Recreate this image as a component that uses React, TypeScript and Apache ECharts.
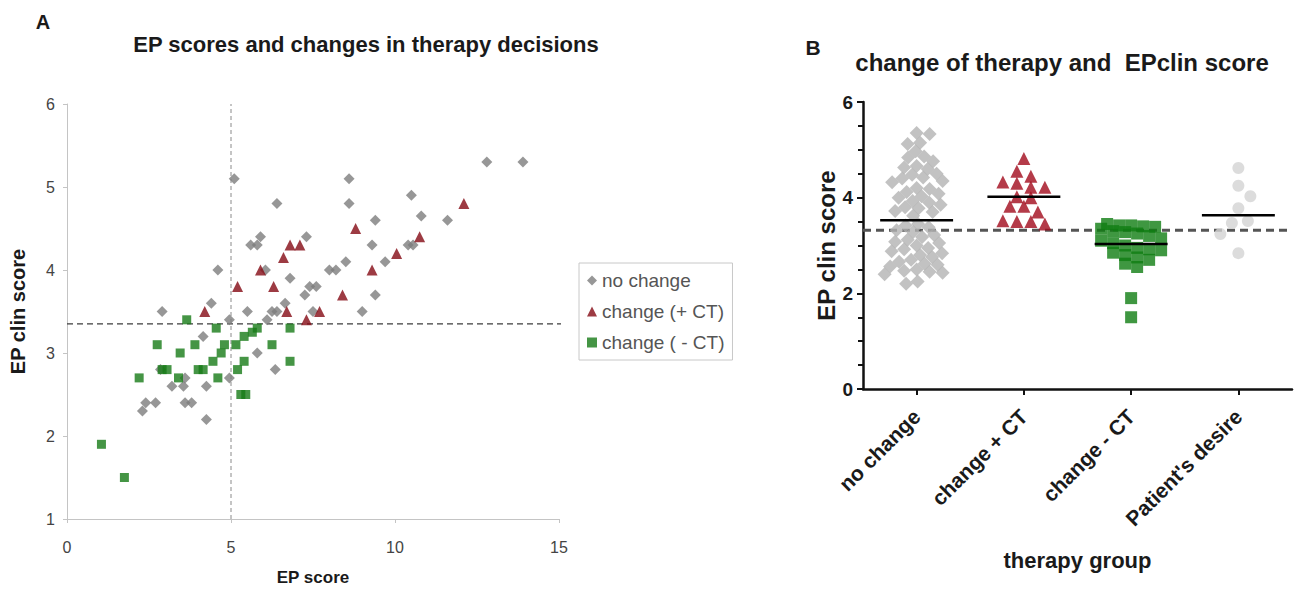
import React, { useEffect, useRef } from "react";
import * as echarts from "echarts";

// ---------- Panel A data: [EP score, EPclin score] ----------
const noChangeA: [number, number][] = [
  [12.8, 5.3], [13.9, 5.3], [5.1, 5.1], [8.6, 5.1], [6.4, 4.8], [8.6, 4.8], [10.5, 4.9],
  [10.8, 4.65], [9.4, 4.6], [11.6, 4.6], [9.3, 4.3], [7.3, 4.4], [8.5, 4.1], [8.0, 4.0],
  [8.2, 4.0], [9.7, 4.1], [10.4, 4.3], [10.55, 4.3], [7.25, 3.7], [7.4, 3.8], [7.6, 3.8],
  [9.4, 3.7], [9.0, 3.5], [7.5, 3.5], [5.6, 4.3], [5.8, 4.3], [5.9, 4.4], [4.6, 4.0],
  [6.05, 4.0], [6.8, 3.9], [4.4, 3.6], [5.5, 3.5], [6.25, 3.5], [6.4, 3.5], [6.65, 3.6],
  [4.95, 3.4], [6.1, 3.4], [2.9, 3.5], [4.15, 3.2], [5.8, 3.0], [6.35, 2.8], [4.95, 2.7],
  [2.85, 2.8], [3.2, 2.6], [3.55, 2.6], [3.6, 2.7], [4.25, 2.6], [2.4, 2.4], [2.7, 2.4],
  [3.6, 2.4], [3.8, 2.4], [2.3, 2.3], [4.25, 2.2],
];
const plusCTA: [number, number][] = [
  [12.1, 4.8], [8.8, 4.5], [6.8, 4.3], [7.1, 4.3], [9.3, 4.0], [10.05, 4.2], [10.75, 4.4],
  [8.4, 3.7], [7.7, 3.5], [7.3, 3.4], [6.6, 4.15], [5.9, 4.0], [5.2, 3.8], [6.3, 3.8],
  [4.2, 3.5], [6.7, 3.5],
];
const minusCTA: [number, number][] = [
  [3.65, 3.4], [4.55, 3.3], [5.8, 3.3], [6.8, 3.3], [2.75, 3.1], [3.9, 3.1], [3.45, 3.0],
  [4.7, 3.0], [4.8, 3.1], [5.15, 3.1], [5.4, 3.2], [5.65, 3.25], [6.25, 3.1], [6.8, 2.9],
  [4.45, 2.9], [5.4, 2.9], [5.2, 2.8], [4.0, 2.8], [4.15, 2.8], [2.9, 2.8], [3.05, 2.8],
  [3.4, 2.7], [4.6, 2.7], [2.2, 2.7], [5.3, 2.5], [5.45, 2.5], [1.05, 1.9], [1.75, 1.5],
];
const legendNamesA = ["no change", "change (+ CT)", "change ( - CT)"];
const epCutoff = 5;
const epClinCutoffA = 3.35;

// ---------- Panel B data: EPclin score per therapy group ----------
const groupNames = ["no change", "change + CT", "change - CT", "Patient's desire"];
const noChangeB = [
  5.35, 5.33, 5.15, 5.12, 4.97, 4.86, 4.84, 4.76, 4.66, 4.63, 4.6, 4.5, 4.48, 4.42, 4.4,
  4.35, 4.32, 4.2, 4.18, 4.12, 4.08, 4.03, 4.0, 3.93, 3.9, 3.85, 3.8, 3.78, 3.72, 3.7,
  3.62, 3.45, 3.42, 3.38, 3.32, 3.28, 3.22, 3.18, 3.12, 3.08, 3.05, 3.0, 2.95, 2.92, 2.88,
  2.84, 2.8, 2.76, 2.7, 2.66, 2.62, 2.6, 2.56, 2.5, 2.47, 2.45, 2.43, 2.4, 2.25, 2.2,
];
const plusCTB = [4.82, 4.55, 4.45, 4.33, 4.3, 4.22, 4.22, 4.02, 4.0, 3.82, 3.82, 3.7, 3.52, 3.5, 3.45, 3.5];
const minusCTB = [
  3.45, 3.42, 3.42, 3.4, 3.39, 3.35, 3.3, 3.28, 3.25, 3.2, 3.15, 3.1, 3.05, 3.0, 2.95, 2.92,
  2.9, 2.85, 2.8, 2.75, 2.7, 2.62, 2.55, 1.9, 1.5,
];
const desireB = [4.62, 4.25, 4.03, 3.78, 3.47, 3.51, 3.24, 2.84];
const groupMeans = [3.53, 4.02, 3.03, 3.63];
const epClinCutoffB = 3.32;

// ---------- layout constants ----------
const FONT = '"Liberation Sans", Arial, Helvetica, sans-serif';
const gridA = { left: 67, top: 104, width: 492, height: 415 };
const gridB = { left: 863, top: 102, width: 429, height: 287 };
const yMaxB = 6;
const pxPerX = gridB.width / groupNames.length;
const pxPerY = gridB.height / yMaxB;

// beeswarm offsets computed from values (pixel collision, then back to axis units)
function swarm(values: number[], groupIdx: number, w: number, h: number, metric: "l1" | "euclid") {
  const placed: { x: number; y: number }[] = [];
  const order = values.map((_, i) => i).sort((a, b) => values[b] - values[a]);
  const out: [number, number][] = [];
  for (const i of order) {
    const y = values[i] * pxPerY;
    let best = 0;
    for (let k = 0; k < 2000; k++) {
      const off = k === 0 ? 0 : (k % 2 === 1 ? 1 : -1) * Math.ceil(k / 2) * 0.5;
      const hit = placed.some((p) => {
        const dx = Math.abs(p.x - off);
        const dy = Math.abs(p.y - y);
        return metric === "l1" ? dx / w + dy / h < 0.98 : dx * dx + dy * dy < w * w * 0.98;
      });
      if (!hit) {
        best = off;
        break;
      }
    }
    placed.push({ x: best, y });
    out.push([groupIdx + 0.5 + best / pxPerX, values[i]]);
  }
  return out;
}

// row-binned dot plot (values in the same bin sit side by side)
function rowsLayout(values: number[], groupIdx: number, w: number, h: number) {
  const binSize = h / pxPerY;
  const bins = new Map<number, number[]>();
  values.forEach((v) => {
    const b = Math.round(v / binSize);
    if (!bins.has(b)) bins.set(b, []);
    bins.get(b)!.push(v);
  });
  const out: [number, number][] = [];
  bins.forEach((vals) => {
    vals.sort((a, b) => b - a);
    const n = vals.length;
    vals.forEach((v, j) => {
      out.push([groupIdx + 0.5 + ((j - (n - 1) / 2) * w) / pxPerX, v]);
    });
  });
  return out;
}

export default function App() {
  const ref = useRef<HTMLDivElement>(null);

  useEffect(() => {
    if (!ref.current) return;
    const chart = echarts.init(ref.current, undefined, { renderer: "svg" });
    const halfMeanWidth = 0.34;
    const txt = (x: number, y: number, text: string, size: number) => ({
      type: "text",
      x,
      y,
      style: {
        text,
        fontFamily: FONT,
        fontSize: size,
        fontWeight: "bold",
        fill: "#1a1a1a",
        align: "center",
        verticalAlign: "middle",
        textAlign: "center",
        textVerticalAlign: "middle",
      },
    });

    const option: any = {
      animation: false,
      textStyle: { fontFamily: FONT },
      graphic: [
        txt(43, 22, "A", 20),
        txt(366, 44, "EP scores and changes in therapy decisions", 22),
        txt(813, 47, "B", 21),
        txt(1062, 62, "change of therapy and  EPclin score", 24),
      ],
      legend: {
        data: legendNamesA,
        orient: "vertical",
        left: 579,
        top: 263,
        padding: [8, 8, 8, 8],
        itemGap: 12,
        itemWidth: 10,
        itemHeight: 10,
        borderColor: "#c8c8c8",
        borderWidth: 1,
        selectedMode: false,
        textStyle: { fontSize: 19, color: "#555", fontFamily: FONT },
      },
      grid: [
        { ...gridA, containLabel: false },
        { ...gridB, containLabel: false },
      ],
      xAxis: [
        {
          type: "value", gridIndex: 0, min: 0, max: 15, interval: 5,
          name: "EP score", nameLocation: "middle", nameGap: 50,
          nameTextStyle: { fontSize: 17, fontWeight: "bold", color: "#1a1a1a", fontFamily: FONT },
          axisLine: { show: true, lineStyle: { color: "#c4c4c4", width: 1 } },
          axisTick: { show: true, length: 4, lineStyle: { color: "#c4c4c4" } },
          axisLabel: { fontSize: 16, color: "#444", margin: 20 },
          splitLine: { show: false },
        },
        {
          type: "category", gridIndex: 1, data: groupNames, boundaryGap: true,
          name: "therapy group", nameLocation: "middle", nameGap: 160,
          nameTextStyle: { fontSize: 22, fontWeight: "bold", color: "#1a1a1a", fontFamily: FONT },
          axisLine: { show: true, lineStyle: { color: "#111", width: 2.5 } },
          axisTick: { show: true, alignWithLabel: true, length: 6, lineStyle: { color: "#111", width: 2 } },
          axisLabel: { rotate: 45, interval: 0, fontSize: 21, fontWeight: "bold", color: "#1a1a1a", margin: 24 },
          splitLine: { show: false },
        },
        { type: "value", gridIndex: 1, min: 0, max: groupNames.length, show: false },
      ],
      yAxis: [
        {
          type: "value", gridIndex: 0, min: 1, max: 6, interval: 1,
          name: "EP clin score", nameLocation: "middle", nameGap: 39, nameRotate: 90,
          nameTextStyle: { fontSize: 20, fontWeight: "bold", color: "#1a1a1a", fontFamily: FONT },
          axisLine: { show: true, lineStyle: { color: "#c4c4c4", width: 1 } },
          axisTick: { show: true, length: 4, lineStyle: { color: "#c4c4c4" } },
          axisLabel: { fontSize: 16, color: "#444", margin: 12 },
          splitLine: { show: false },
        },
        {
          type: "value", gridIndex: 1, min: 0, max: yMaxB, interval: 2,
          name: "EP clin score", nameLocation: "middle", nameGap: 25, nameRotate: 90,
          nameTextStyle: { fontSize: 24, fontWeight: "bold", color: "#1a1a1a", fontFamily: FONT },
          axisLine: { show: true, lineStyle: { color: "#111", width: 2.5 } },
          axisTick: { show: true, length: 6, lineStyle: { color: "#111", width: 2 } },
          minorTick: { show: true, splitNumber: 4, length: 5, lineStyle: { color: "#111", width: 2 } },
          axisLabel: { fontSize: 19, fontWeight: "bold", color: "#1a1a1a", margin: 10 },
          splitLine: { show: false },
          minorSplitLine: { show: false },
        },
      ],
      series: [
        // Panel A cut-off lines
        {
          name: "cutA-h", type: "line", xAxisIndex: 0, yAxisIndex: 0, clip: false, silent: true,
          symbol: "none", data: [[0, epClinCutoffA], [15.28, epClinCutoffA]],
          lineStyle: { color: "#3c3c3c", width: 1.2, type: [6, 4] }, z: 1,
        },
        {
          name: "cutA-v", type: "line", xAxisIndex: 0, yAxisIndex: 0, silent: true,
          symbol: "none", data: [[epCutoff, 1], [epCutoff, 6]],
          lineStyle: { color: "#8a8a8a", width: 1, type: [4, 3] }, z: 1,
        },
        {
          name: legendNamesA[0], type: "scatter", xAxisIndex: 0, yAxisIndex: 0,
          symbol: "diamond", symbolSize: 11, data: noChangeA,
          itemStyle: { color: "#7d7d7d" },
        },
        {
          name: legendNamesA[1], type: "scatter", xAxisIndex: 0, yAxisIndex: 0,
          symbol: "triangle", symbolSize: 11, data: plusCTA,
          itemStyle: { color: "#850a14" },
        },
        {
          name: legendNamesA[2], type: "scatter", xAxisIndex: 0, yAxisIndex: 0,
          symbol: "rect", symbolSize: 9, data: minusCTA,
          itemStyle: { color: "#167a16" },
        },
        // Panel B cut-off
        {
          name: "cutB", type: "line", xAxisIndex: 2, yAxisIndex: 1, silent: true, symbol: "none",
          data: [[0, epClinCutoffB], [groupNames.length, epClinCutoffB]],
          lineStyle: { color: "#555", width: 3, type: [8, 5] }, z: 1,
        },
        {
          name: "B no change", type: "scatter", xAxisIndex: 2, yAxisIndex: 1,
          symbol: "diamond", symbolSize: 14, data: swarm(noChangeB, 0, 14, 13, "l1"),
          itemStyle: { color: "#b3b3b3" },
        },
        {
          name: "B change + CT", type: "scatter", xAxisIndex: 2, yAxisIndex: 1,
          symbol: "triangle", symbolSize: 13, data: rowsLayout(plusCTB, 1, 14, 12),
          itemStyle: { color: "#a10a1c" },
        },
        {
          name: "B change - CT", type: "scatter", xAxisIndex: 2, yAxisIndex: 1,
          symbol: "rect", symbolSize: 12, data: rowsLayout(minusCTB, 2, 12, 12),
          itemStyle: { color: "#0f7d12" },
        },
        {
          name: "B Patient's desire", type: "scatter", xAxisIndex: 2, yAxisIndex: 1,
          symbol: "circle", symbolSize: 12, data: swarm(desireB, 3, 16, 16, "euclid"),
          itemStyle: { color: "#d3d3d3" },
        },
        ...groupMeans.map((m, i) => ({
          name: "mean " + groupNames[i], type: "line", xAxisIndex: 2, yAxisIndex: 1, silent: true,
          symbol: "none", data: [[i + 0.5 - halfMeanWidth, m], [i + 0.5 + halfMeanWidth, m]],
          lineStyle: { color: "#000", width: 2.5 }, z: 5,
        })),
      ],
    };
    chart.setOption(option);
    return () => chart.dispose();
  }, []);

  return (
    <div
      ref={ref}
      style={{ position: "absolute", left: 0, top: 0, width: 1306, height: 591, background: "#fff" }}
    />
  );
}
